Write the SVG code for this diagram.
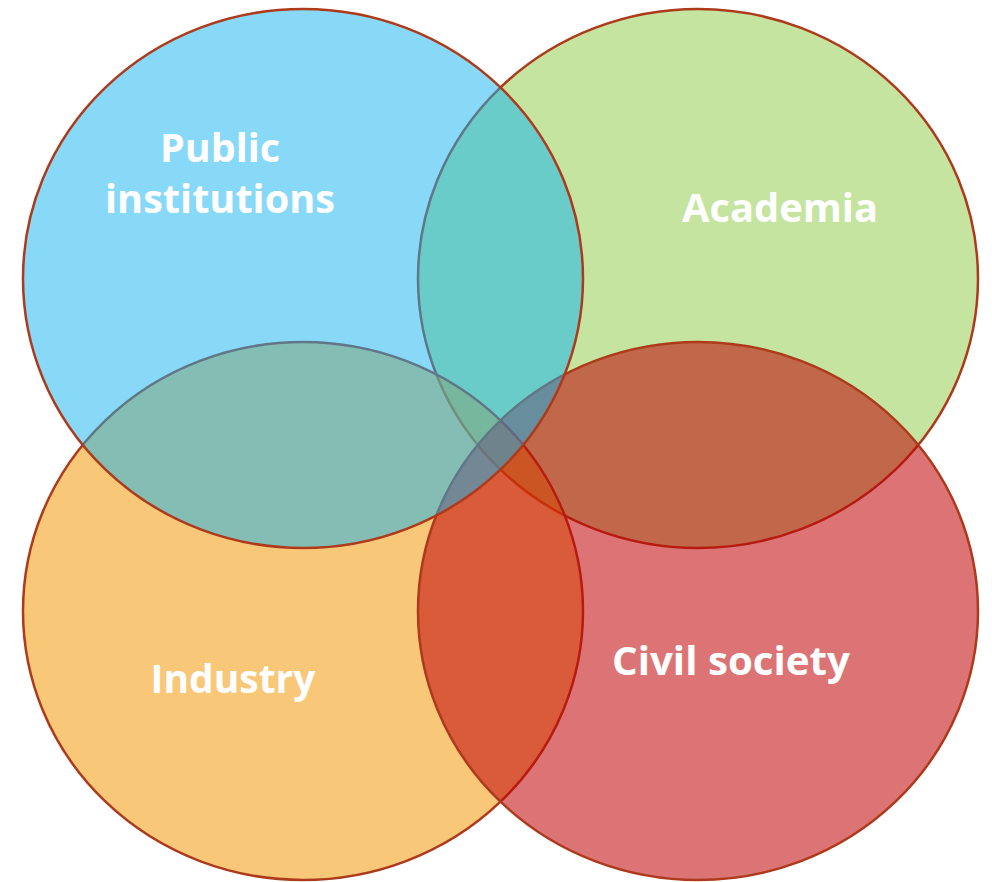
<svg xmlns="http://www.w3.org/2000/svg" width="992" height="882" viewBox="0 0 992 882">
<style>
.c{stroke:#AE3A1C;stroke-width:2.5}
.t{font-family:"Open Sans","Noto Sans","DejaVu Sans",sans-serif;font-weight:700;font-size:40px;fill:#FFFFFF;text-anchor:middle}
</style>
<rect width="992" height="882" fill="#FFFFFF"/>
<g id="academia">
<ellipse class="c" cx="698" cy="278.5" rx="280" ry="269.5" fill="#89C941" fill-opacity="0.5"/>
<text class="t" x="780" y="222" textLength="196" lengthAdjust="spacingAndGlyphs">Academia</text>
</g>
<g id="industry">
<ellipse class="c" cx="303" cy="611" rx="280" ry="269" fill="#F29500" fill-opacity="0.53"/>
<text class="t" x="233" y="693" textLength="165" lengthAdjust="spacingAndGlyphs">Industry</text>
</g>
<g id="civil-society">
<ellipse class="c" cx="698" cy="611" rx="280" ry="269" fill="#BF0206" fill-opacity="0.55"/>
<text class="t" x="731" y="675" textLength="238" lengthAdjust="spacingAndGlyphs">Civil society</text>
</g>
<g id="public-institutions">
<ellipse class="c" cx="303" cy="278.5" rx="280" ry="269.5" fill="#0FB3EF" fill-opacity="0.5"/>
<text class="t" x="220" y="162" textLength="120" lengthAdjust="spacingAndGlyphs">Public</text>
<text class="t" x="220" y="213" textLength="230" lengthAdjust="spacingAndGlyphs">institutions</text>
</g>
<g id="connectors"></g>
</svg>
